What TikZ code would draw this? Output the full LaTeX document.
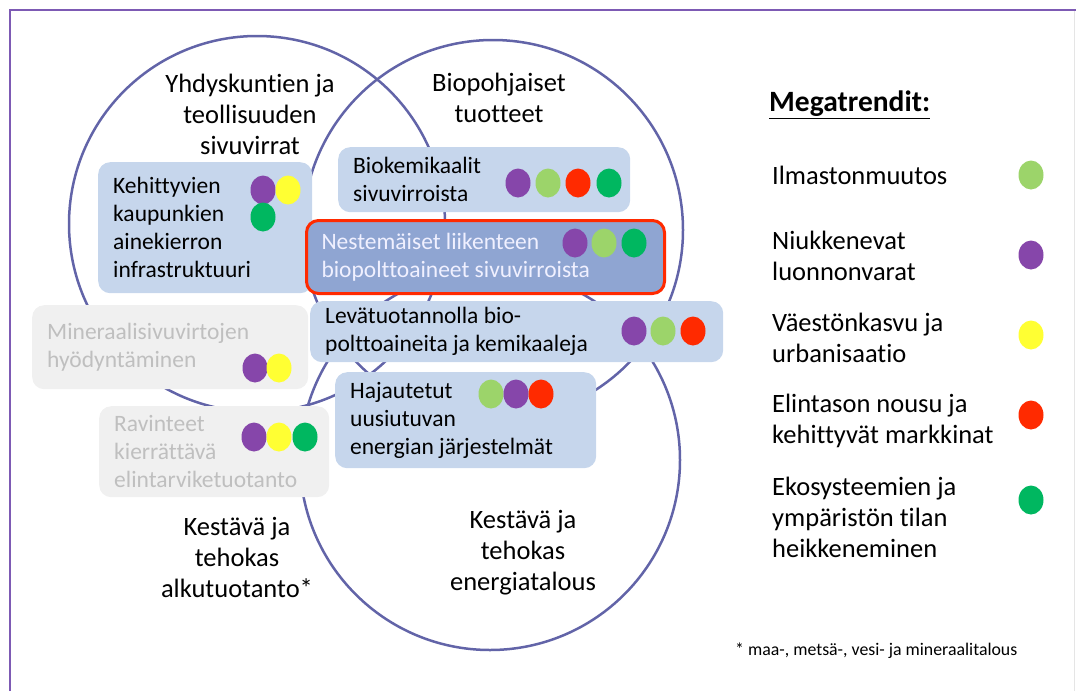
\documentclass[tikz,border=0pt]{standalone}
\usepackage{fontspec}
\setmainfont{Carlito}[Ligatures=CommonOff]
\usepackage{xcolor}
\usetikzlibrary{shapes.geometric}

\definecolor{vennline}{RGB}{98,100,168}
\definecolor{framecol}{RGB}{125,90,180}
\definecolor{boxblue}{RGB}{198,214,236}
\definecolor{boxdark}{RGB}{143,165,210}
\definecolor{boxgray}{RGB}{240,240,240}
\definecolor{txtgray}{RGB}{191,191,191}
\definecolor{tpurple}{RGB}{134,70,170}
\definecolor{tyellow}{RGB}{255,255,51}
\definecolor{tlgreen}{RGB}{156,212,106}
\definecolor{tred}{RGB}{255,42,0}
\definecolor{tgreen}{RGB}{0,183,96}

\newcommand{\boxfont}{\fontsize{23.5}{28}\selectfont}
\newcommand{\bigfont}{\fontsize{26.5}{31}\selectfont}

\tikzset{
  venn/.style={circle, draw=vennline, line width=2.5pt, inner sep=0pt},
  topic/.style={rounded corners=12pt, fill=boxblue, anchor=north west, align=flush left,
    inner xsep=15pt, inner ysep=0pt, font=\boxfont},
  greytopic/.style={topic, fill=boxgray, text=txtgray},
  trenddot/.style={ellipse, minimum width=25pt, minimum height=29pt, inner sep=0pt},
  area/.style={align=center, font=\bigfont, inner sep=0pt},
  legend/.style={anchor=west, align=left, font=\bigfont, inner sep=0pt}
}

\begin{document}
\begin{tikzpicture}[x=1pt, y=-1pt]
  \useasboundingbox (0,0) rectangle (1076,691);
  % slide frame
  \draw[framecol, line width=2pt] (10,691) -- (10,10) -- (1076,10);
  \draw[black!10, line width=1pt] (1074.5,11) -- (1074.5,691);

    % the three circles
    \node[venn, minimum size=376pt] (yhd) at (257,224) {};
    \node[venn, minimum size=380pt] (bio) at (493,230) {};
    \node[venn, minimum size=380pt] (ene) at (490,460) {};

  \node[area] (yhdlabel) at (250,114) {Yhdyskuntien ja\\teollisuuden\\sivuvirrat};
  \node[area] (biolabel) at (499,98) {Biopohjaiset\\tuotteet};
  \node[area] (alklabel) at (237,557) {Kestävä ja\\tehokas\\alkutuotanto*};
  \node[area] (enelabel) at (523,553) {Kestävä ja\\tehokas\\energiatalous};

  % boxes
  \node[topic, text width=184pt, minimum height=131pt] (kehi) at (98,162)
    {Kehittyvien\\kaupunkien\\ainekierron\\infrastruktuuri};
  \node[topic, text width=262pt, minimum height=65pt] (biok) at (338,147)
    {Biokemikaalit\\sivuvirroista};
  \node[topic, fill=boxdark, draw=tred, line width=3pt, text=white!94!blue,
    text width=328pt, minimum height=73pt] (nest) at (305,219)
    {Nestemäiset liikenteen\\biopolttoaineet sivuvirroista};
  \node[topic, text width=383pt, minimum height=61pt] (leva) at (310,301)
    {Levätuotannolla bio-\\polttoaineita ja kemikaaleja};
  \node[topic, text width=231pt, minimum height=96pt] (haja) at (335,372)
    {Hajautetut\\uusiutuvan\\energian järjestelmät};
  \node[greytopic, text width=246pt, minimum height=84pt] (mine) at (32,305)
    {Mineraalisivuvirtojen\\hyödyntäminen};
  \node[greytopic, text width=200pt, minimum height=91pt] (ravi) at (99,406)
    {Ravinteet\\kierrättävä\\elintarviketuotanto};

  % megatrend dots of each box
  \foreach \c/\x/\y [count=\i] in {tpurple/263/190, tyellow/288/190, tgreen/263/217}
    \node[trenddot, fill=\c] (kehi\i) at (\x,\y) {};
  \foreach \c/\x [count=\i] in {tpurple/518, tlgreen/548, tred/578, tgreen/609}
    \node[trenddot, fill=\c] (biok\i) at (\x,183) {};
  \foreach \c/\x [count=\i] in {tpurple/575, tlgreen/604, tgreen/634}
    \node[trenddot, fill=\c] (nest\i) at (\x,243) {};
  \foreach \c/\x [count=\i] in {tpurple/634, tlgreen/663, tred/693}
    \node[trenddot, fill=\c] (leva\i) at (\x,331) {};
  \foreach \c/\x [count=\i] in {tlgreen/491, tpurple/516, tred/541}
    \node[trenddot, fill=\c] (haja\i) at (\x,394) {};
  \foreach \c/\x [count=\i] in {tpurple/255, tyellow/279}
    \node[trenddot, fill=\c] (mine\i) at (\x,368) {};
  \foreach \c/\x [count=\i] in {tpurple/254, tyellow/279, tgreen/305}
    \node[trenddot, fill=\c] (ravi\i) at (\x,437) {};

  % legend
  \node[legend, font=\fontsize{29.5}{31}\selectfont\bfseries] (megatitle) at (769,105) {\underline{Megatrendit:}};
  \node[legend] (ilma) at (772,175) {Ilmastonmuutos};
  \node[legend] (niuk) at (772,256) {Niukkenevat\\luonnonvarat};
  \node[legend] (vaes) at (772,338) {Väestönkasvu ja\\urbanisaatio};
  \node[legend] (elin) at (772,421) {Elintason nousu ja\\kehittyvät markkinat};
  \node[legend] (ekos) at (772,517) {Ekosysteemien ja\\ympäristön tilan\\heikkeneminen};
  \foreach \c/\y/\n in {tlgreen/175/ilmadot, tpurple/255/niukdot, tyellow/335/vaesdot,
      tred/415/elindot, tgreen/500/ekosdot}
    \node[trenddot, fill=\c] (\n) at (1031,\y) {};

  \node[legend, font=\fontsize{17.8}{20}\selectfont] (foot) at (735,651)
    {* maa-, metsä-, vesi- ja mineraalitalous};
\end{tikzpicture}
\end{document}
